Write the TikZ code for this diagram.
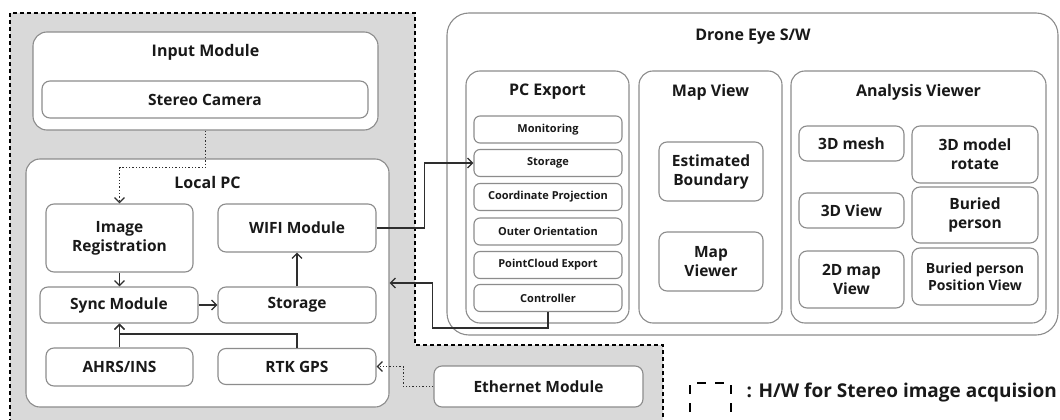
\documentclass[tikz,border=0pt]{standalone}
\usepackage{fontspec}
\setmainfont{Open Sans}
\usetikzlibrary{arrows.meta}

\definecolor{boxline}{HTML}{8C8C8C}
\definecolor{hwgrey}{HTML}{D9D9D9}
\definecolor{wirec}{HTML}{2E2E2E}

\begin{document}
\begin{tikzpicture}[x=1pt,y=-1pt,
  box/.style={draw=boxline,fill=white,line width=1.1pt,rounded corners=14pt,inner sep=0pt},
  unit/.style={draw=boxline,fill=white,line width=1.1pt,rounded corners=8pt,inner sep=0pt,
    align=center,text=black!90,font=\fontsize{15.5}{19}\selectfont\bfseries},
  item/.style={draw=boxline,fill=white,line width=1.1pt,rounded corners=6pt,inner sep=0pt,
    minimum width=148pt,minimum height=27pt,text=black!90,font=\fontsize{11}{13}\selectfont\bfseries},
  title/.style={text=black!90,font=\fontsize{16}{19}\selectfont\bfseries},
  wire/.style={draw=wirec,line width=1.3pt,-{Straight Barb[length=5pt,width=10pt]}},
  dotwire/.style={wire,dotted},
  hwline/.style={draw=black,line width=1.3pt,dash pattern=on 4pt off 3pt}]
	\useasboundingbox (0,0) rectangle (1060,420);
	\fill[hwgrey] (10,430) -- (10,13) -- (415,13) -- (415,345) -- (663,345) -- (663,430) -- cycle;
	\draw[hwline] (10,430) -- (10,13) -- (415,13) -- (415,345) -- (663,345) -- (663,430);

	\node[box,minimum width=345pt,minimum height=98pt] (inmod) at (205.5,81) {};
	\node[title] (inmodt) at (205.5,52) {Input Module};
	\node[unit,minimum width=326pt,minimum height=37pt] (cam) at (205,99.5) {Stereo Camera};

	\node[box,minimum width=363pt,minimum height=248pt] (localpc) at (207.5,283) {};
	\node[title] (localpct) at (207.5,182) {Local PC};
	\node[unit,minimum width=147pt,minimum height=68pt] (imgreg) at (119.5,238) {Image\\Registration};
	\node[unit,minimum width=158pt,minimum height=48pt] (wifi) at (297,228) {WIFI Module};
	\node[unit,minimum width=158pt,minimum height=36pt] (sync) at (119,305) {Sync Module};
	\node[unit,minimum width=158pt,minimum height=36pt] (stor) at (297,305) {Storage};
	\node[unit,minimum width=147pt,minimum height=38pt] (ahrs) at (119.5,367) {AHRS/INS};
	\node[unit,minimum width=158pt,minimum height=36pt] (rtk) at (297,366.5) {RTK GPS};

	\node[unit,minimum width=209pt,minimum height=41pt] (eth) at (538.5,386.5) {Ethernet Module};

	\node[box,rounded corners=22pt,minimum width=611pt,minimum height=322pt] (drone) at (752.5,174) {};
	\node[title] (dronet) at (753,37) {Drone Eye S/W};

	\node[box,minimum width=163pt,minimum height=252pt] (pcexp) at (547.5,197) {};
	\node[title] (pcexpt) at (547.5,92) {PC Export};
	\node[item] (mon) at (548,129.5) {Monitoring};
	\node[item] (pstor) at (548,163) {Storage};
	\node[item] (coord) at (548,197) {Coordinate Projection};
	\node[item] (outer) at (548,231.5) {Outer Orientation};
	\node[item] (pcloud) at (548,265) {PointCloud Export};
	\node[item] (ctrl) at (548,298) {Controller};

	\node[box,minimum width=143pt,minimum height=252pt] (mapview) at (710.5,197) {};
	\node[title] (mapviewt) at (710.5,92) {Map View};
	\node[unit,minimum width=104pt,minimum height=59pt] (estb) at (711,171.5) {Estimated\\Boundary};
	\node[unit,minimum width=104pt,minimum height=59pt] (mapv) at (711,261.5) {Map\\Viewer};

	\node[box,minimum width=255pt,minimum height=252pt] (anal) at (918.5,197) {};
	\node[title] (analt) at (918.5,92) {Analysis Viewer};
	\node[unit,minimum width=105pt,minimum height=35pt] (mesh) at (851.5,143.5) {3D mesh};
	\node[unit,minimum width=126pt,minimum height=57pt] (rot) at (975,154.5) {3D model\\rotate};
	\node[unit,minimum width=105pt,minimum height=35pt] (view3d) at (851.5,210.5) {3D View};
	\node[unit,minimum width=126pt,minimum height=56pt] (buried) at (975,215) {Buried\\person};
	\node[unit,minimum width=105pt,minimum height=57pt] (map2d) at (851.5,279.5) {2D map\\View};
	\node[unit,minimum width=126pt,minimum height=57pt,font=\fontsize{14}{17}\selectfont\bfseries] (bpos) at (975,276.5) {Buried person\\Position View};

	\draw[dotwire] (inmod.south) -- ++(0,37) -| (imgreg.north);
	\draw[wire] (imgreg.south) -- (imgreg.south |- sync.north);
	\draw[wire] (sync.east) -- (stor.west);
	\draw[wire] (stor.north) -- (wifi.south);
	\draw[wire] (ahrs.north) -- (ahrs.north |- sync.south);
	\draw[wire] (rtk.north) -- ++(0,-14) -| (ahrs.north |- sync.south);
	\draw[wire] (wifi.east) -- ++(48,0) |- (pstor.west);
	\draw[wire] (ctrl.south) -- ++(0,16) -| ([xshift=43pt]localpc.east) -- (localpc.east);
	\draw[dotwire] (eth.west) -- ++(-30,0) |- (rtk.east);

	\draw[draw=black,line width=2pt,dash pattern=on 9pt off 9pt] (690,430) -- (690,383) -- (731,383) -- (731,430);
	\node[title,anchor=west,font=\fontsize{19}{22}\selectfont\bfseries] (legtxt) at (743,393) {: H/W for Stereo image acquision};
\end{tikzpicture}
\end{document}
